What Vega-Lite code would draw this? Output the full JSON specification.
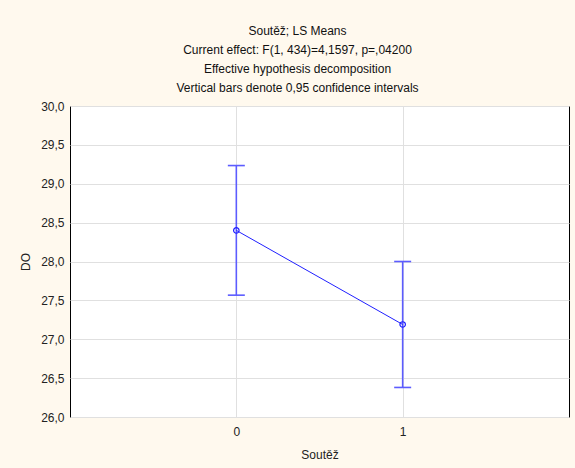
{
  "$schema": "https://vega.github.io/schema/vega-lite/v6.json",
  "autosize": "none",
  "width": 499,
  "height": 311,
  "padding": {"left": 70, "top": 106, "right": 6, "bottom": 51},
  "background": "#fff9ee",
  "config": {
    "locale": {"number": {"decimal": ",", "thousands": " ", "grouping": [3], "currency": ["", ""]}},
    "font": "Liberation Sans",
    "view": {"fill": "white", "stroke": "black", "strokeWidth": 1},
    "axis": {"labelFont": "Liberation Sans", "titleFont": "Liberation Sans", "labelFontSize": 12, "titleFontSize": 12, "titleFontWeight": "normal", "labelColor": "#222", "titleColor": "#222", "gridColor": "#e0e0e0", "gridOpacity": 1, "domain": false, "ticks": false, "labelOverlap": false}
  },
  "title": {
    "text": ["Soutěž; LS Means", "Current effect: F(1, 434)=4,1597, p=,04200", "Effective hypothesis decomposition", "Vertical bars denote 0,95 confidence intervals"],
    "font": "Liberation Sans",
    "fontSize": 12,
    "fontWeight": "normal",
    "color": "#111",
    "lineHeight": 19,
    "anchor": "middle",
    "dx": -22,
    "offset": 5
  },
  "data": {"values": [
    {"Soutez": 0, "DO": 28.40, "lo": 27.567, "hi": 29.234},
    {"Soutez": 1, "DO": 27.19, "lo": 26.38, "hi": 28.00}
  ]},
  "encoding": {
    "x": {"field": "Soutez", "type": "quantitative", "scale": {"domain": [-1, 2], "nice": false, "zero": false},
      "axis": {"title": "Soutěž", "values": [0, 1], "format": "d", "labelPadding": 9, "titlePadding": 12}}
  },
  "layer": [
    {
      "mark": {"type": "rule", "color": "#5c5cff", "strokeWidth": 1.6},
      "encoding": {
        "y": {"field": "lo", "type": "quantitative", "scale": {"domain": [26, 30], "nice": false, "zero": false},
          "axis": {"title": "DO", "values": [26, 26.5, 27, 27.5, 28, 28.5, 29, 29.5, 30], "format": ".1f", "labelPadding": 6, "titlePadding": 8}},
        "y2": {"field": "hi"}
      }
    },
    {
      "mark": {"type": "tick", "orient": "horizontal", "color": "#5c5cff", "thickness": 1.6, "size": 17, "opacity": 1},
      "encoding": {"y": {"field": "lo", "type": "quantitative", "scale": {"domain": [26, 30], "nice": false, "zero": false},
          "axis": {"title": "DO", "values": [26, 26.5, 27, 27.5, 28, 28.5, 29, 29.5, 30], "format": ".1f", "labelPadding": 6, "titlePadding": 8}}}
    },
    {
      "mark": {"type": "tick", "orient": "horizontal", "color": "#5c5cff", "thickness": 1.6, "size": 17, "opacity": 1},
      "encoding": {"y": {"field": "hi", "type": "quantitative", "scale": {"domain": [26, 30], "nice": false, "zero": false},
          "axis": {"title": "DO", "values": [26, 26.5, 27, 27.5, 28, 28.5, 29, 29.5, 30], "format": ".1f", "labelPadding": 6, "titlePadding": 8}}}
    },
    {
      "mark": {"type": "line", "color": "#2020ff", "strokeWidth": 1},
      "encoding": {"y": {"field": "DO", "type": "quantitative", "scale": {"domain": [26, 30], "nice": false, "zero": false},
          "axis": {"title": "DO", "values": [26, 26.5, 27, 27.5, 28, 28.5, 29, 29.5, 30], "format": ".1f", "labelPadding": 6, "titlePadding": 8}}}
    },
    {
      "mark": {"type": "point", "shape": "circle", "filled": false, "color": "#2020ff", "strokeWidth": 1.2, "size": 30, "opacity": 1},
      "encoding": {"y": {"field": "DO", "type": "quantitative", "scale": {"domain": [26, 30], "nice": false, "zero": false},
          "axis": {"title": "DO", "values": [26, 26.5, 27, 27.5, 28, 28.5, 29, 29.5, 30], "format": ".1f", "labelPadding": 6, "titlePadding": 8}}}
    }
  ]
}
